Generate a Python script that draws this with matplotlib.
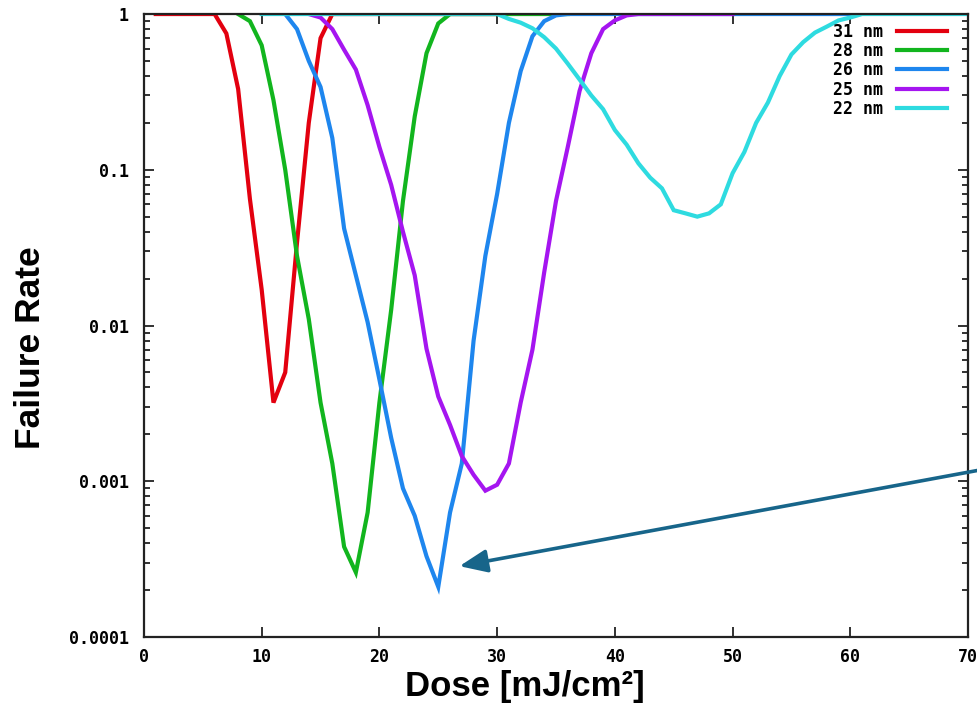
import matplotlib.pyplot as plt
from matplotlib.ticker import LogLocator, NullFormatter, FixedLocator

# dose in mJ/cm^2, failure rate per CD
dose_31 = list(range(1, 31))
rate_31 = [1.0, 1.0, 1.0, 1.0, 1.0, 1.0, 0.75, 0.33, 0.065, 0.017,
           0.0032, 0.005, 0.034, 0.2, 0.7, 1.0, 1.0, 1.0, 1.0, 1.0,
           1.0, 1.0, 1.0, 1.0, 1.0, 1.0, 1.0, 1.0, 1.0, 1.0]

dose_28 = list(range(8, 37))
rate_28 = [1.0, 0.9, 0.63, 0.28, 0.1, 0.028, 0.011, 0.0032, 0.0013, 0.00038,
           0.00026, 0.00063, 0.0032, 0.0126, 0.063, 0.22, 0.56, 0.87, 1.0, 1.0,
           1.0, 1.0, 1.0, 1.0, 1.0, 1.0, 1.0, 1.0, 1.0]

dose_26 = list(range(12, 61))
rate_26 = [1.0, 0.8, 0.5, 0.34, 0.16, 0.042, 0.021, 0.0105, 0.0045, 0.0019,
           0.0009, 0.0006, 0.00033, 0.00021, 0.00063, 0.0013, 0.008, 0.028, 0.07, 0.2,
           0.43, 0.72, 0.9, 0.98] + [1.0] * 25

dose_25 = list(range(14, 51))
rate_25 = [1.0, 0.95, 0.8, 0.59, 0.44, 0.26, 0.14, 0.08, 0.04, 0.021,
           0.0071, 0.0035, 0.0023, 0.00145, 0.0011, 0.00087, 0.00095, 0.0013, 0.0032, 0.007,
           0.022, 0.063, 0.14, 0.32, 0.56, 0.8, 0.91, 0.98] + [1.0] * 9

dose_22 = list(range(10, 71))
rate_22 = [1.0] * 21 + [0.93, 0.88, 0.81, 0.71, 0.6, 0.48, 0.38, 0.30, 0.245, 0.18,
                        0.145, 0.11, 0.089, 0.076, 0.055, 0.0525, 0.05, 0.0525, 0.06, 0.095,
                        0.13, 0.2, 0.27, 0.4, 0.55, 0.66, 0.76, 0.83, 0.91, 0.95] + [1.0] * 10

series = [
    ("31 nm", dose_31, rate_31, "#e3000f"),
    ("28 nm", dose_28, rate_28, "#12b51e"),
    ("26 nm", dose_26, rate_26, "#1e86ee"),
    ("25 nm", dose_25, rate_25, "#a515f0"),
    ("22 nm", dose_22, rate_22, "#2edbe0"),
]

# arrow pointing at the 26 nm minimum
arrow_tip = (26.8, 0.000285)

fig = plt.figure(figsize=(9.78, 7.27), dpi=100)
ax = fig.add_axes([0.1472, 0.1238, 0.8426, 0.8569])

for label, x, y, c in series:
    ax.plot(x, y, color=c, lw=3.0, label=label, solid_joinstyle="miter")

ax.set_yscale("log")
ax.set_xlim(0, 70)
ax.set_ylim(1e-4, 1)

tick_font = {"family": "DejaVu Sans Mono", "weight": "bold", "size": 12}
ax.xaxis.set_major_locator(FixedLocator(range(0, 71, 10)))
ax.set_xticklabels([str(v) for v in range(0, 71, 10)], fontdict=tick_font)
ax.yaxis.set_major_locator(FixedLocator([1e-4, 1e-3, 1e-2, 1e-1, 1]))
ax.yaxis.set_minor_locator(LogLocator(base=10, subs=range(2, 10)))
ax.yaxis.set_minor_formatter(NullFormatter())
ax.set_yticklabels(["0.0001", "0.001", "0.01", "0.1", "1"], fontdict=tick_font)

ax.tick_params(which="both", direction="in", top=True, right=True, width=1.3, color="#222222")
ax.tick_params(which="major", length=7)
ax.tick_params(which="minor", length=4)
ax.tick_params(axis="y", pad=11)
ax.tick_params(axis="x", pad=8)
for s in ax.spines.values():
    s.set_linewidth(1.6)
    s.set_color("#222222")

leg = ax.legend(loc="upper right", bbox_to_anchor=(0.982, 0.997), frameon=False,
                markerfirst=False, handlelength=3.0, handletextpad=0.8,
                labelspacing=0.08, borderaxespad=0.0,
                prop={"family": "DejaVu Sans Mono", "weight": "bold", "size": 12})

fig.text(0.031, 0.522, "Failure Rate", rotation=90, ha="center", va="center",
         fontsize=25.5, fontweight="bold", family="Liberation Sans")
fig.text(0.537, 0.056, "Dose [mJ/cm\u00b2]", ha="center", va="center",
         fontsize=25, fontweight="bold", family="Liberation Sans")

ax.annotate("", xy=arrow_tip, xycoords="data",
            xytext=(1.0, 0.353), textcoords="figure fraction",
            arrowprops=dict(arrowstyle="-|>,head_length=1.2,head_width=0.5",
                            mutation_scale=14, color="#17658a", lw=2.6,
                            shrinkA=0, shrinkB=0),
            annotation_clip=False)

fig.savefig("out.png", dpi=100)
